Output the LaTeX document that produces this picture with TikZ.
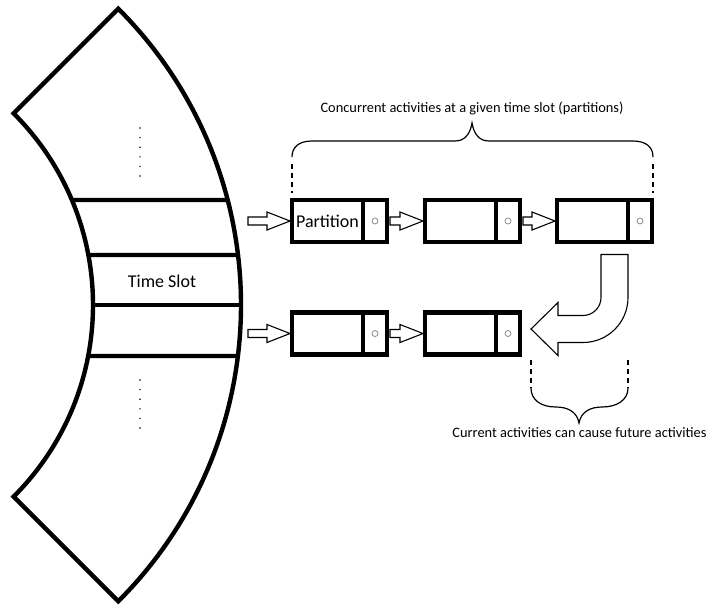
\documentclass[tikz,border=0pt]{standalone}
\usepackage{fontspec}
\setmainfont{Carlito}
\usetikzlibrary{calc,positioning}
\begin{document}
\begin{tikzpicture}[x=1pt,y=1pt,
  heavy/.style={line width=4.4pt},
  cell/.style={draw, heavy, rectangle, minimum width=71pt, minimum height=42pt,
    inner sep=0pt, outer sep=0pt, font=\fontsize{18}{20}\selectfont},
  tailcell/.style={draw, heavy, rectangle, minimum width=24pt, minimum height=42pt,
    inner sep=0pt, outer sep=0pt,
    path picture={\draw[gray, line width=0.7pt] (path picture bounding box.center) circle (3pt);}},
  fat/.style={draw, line width=1.1pt, fill=white, line join=miter,
    to path={let \p1=(\tikztostart), \p2=(\tikztotarget) in
      (\x1,\y1+4pt) -- (\x2-23pt,\y1+4pt) -- (\x2-23pt,\y1+9pt) -- (\x2,\y1)
      -- (\x2-23pt,\y1-9pt) -- (\x2-23pt,\y1-4pt) -- (\x1,\y1-4pt) -- cycle}},
  guide/.style={line width=1.2pt, dash pattern=on 5pt off 4pt},
  brace/.style={line width=1.2pt},
  note/.style={font=\fontsize{14.4}{17}\selectfont, inner sep=0pt},
  label/.style={font=\fontsize{18}{20}\selectfont, inner sep=0pt}
]
\useasboundingbox (0,0) rectangle (712,-606);

% curved time band (annular sector)
\coordinate (ctr) at (-178,-305);
\draw[heavy, line join=miter]
  ($(ctr)+(45:271)$) arc[start angle=45, end angle=-45, radius=271]
  -- ($(ctr)+(-45:419)$) arc[start angle=-45, end angle=45, radius=419] -- cycle;
\foreach \dy in {105,50,0,-51}
  \draw[heavy] ($(ctr)+({asin(\dy/271)}:271)$) -- ($(ctr)+({asin(\dy/419)}:419)$);
\node[label] (ts) at (162,-281) {Time Slot};
\foreach \k in {0,...,5} {
  \fill (140,-128-9.6*\k) circle (0.8);
  \fill (140,-380-9.6*\k) circle (0.8);
}

% partitions, first row
\node[cell] (a1) at (327.5,-221) {Partition};
\node[tailcell, right=0pt of a1] (a1t) {};
\node[cell] (a2) at (460.5,-221) {};
\node[tailcell, right=0pt of a2] (a2t) {};
\node[cell] (a3) at (592.5,-221) {};
\node[tailcell, right=0pt of a3] (a3t) {};

% partitions, second row
\node[cell] (b1) at (327.5,-333.5) {};
\node[tailcell, right=0pt of b1] (b1t) {};
\node[cell] (b2) at (460.5,-333.5) {};
\node[tailcell, right=0pt of b2] (b2t) {};

% links
\coordinate (s1) at (248,-221);
\coordinate (s2) at (248,-333.5);
\draw[fat] (s1) to ([xshift=-2pt]a1.west);
\draw[fat] ([xshift=3pt]a1t.east) to ([xshift=-2pt]a2.west);
\draw[fat] ([xshift=3pt]a2t.east) to ([xshift=-2pt]a3.west);
\draw[fat] (s2) to ([xshift=-2pt]b1.west);
\draw[fat] ([xshift=3pt]b1t.east) to ([xshift=-2pt]b2.west);

% bent arrow from the last partition down to the next row
\draw[line width=1.1pt, fill=white, line join=miter]
  ([yshift=-12.5pt]a3t.south west) -- ++(0,-43)
  arc[start angle=0, end angle=-90, radius=45]
  -- ++(-25,0) -- ++(0,-13) -- ++(-27,26.5) -- ++(27,26.5) -- ++(0,-13) -- ++(25,0)
  arc[start angle=-90, end angle=0, radius=18]
  -- ++(0,43) -- cycle;

% upper brace
\node[note] (top) at (472,-108) {Concurrent activities at a given time slot (partitions)};
\draw[brace] (292,-157) .. controls (292,-147) and (299,-141) .. (312,-141)
  -- (455,-141) .. controls (464,-141) and (470,-135) .. (472,-123)
  .. controls (474,-135) and (480,-141) .. (489,-141)
  -- (633,-141) .. controls (646,-141) and (653,-147) .. (653,-157);
\draw[guide] (292,-164) -- (292,-193);
\draw[guide] (653,-164) -- (653,-193);

% lower brace
\draw[guide] (531,-360) -- (531,-388);
\draw[guide] (628,-360) -- (628,-388);
\draw[brace] (531,-388) .. controls (531,-400) and (541,-407) .. (556,-407)
  .. controls (568,-407) and (577,-412) .. (579,-423)
  .. controls (581,-412) and (590,-407) .. (602,-407)
  .. controls (617,-407) and (628,-400) .. (628,-388);
\node[note] (bot) at (579.5,-433) {Current activities can cause future activities};
\end{tikzpicture}
\end{document}
